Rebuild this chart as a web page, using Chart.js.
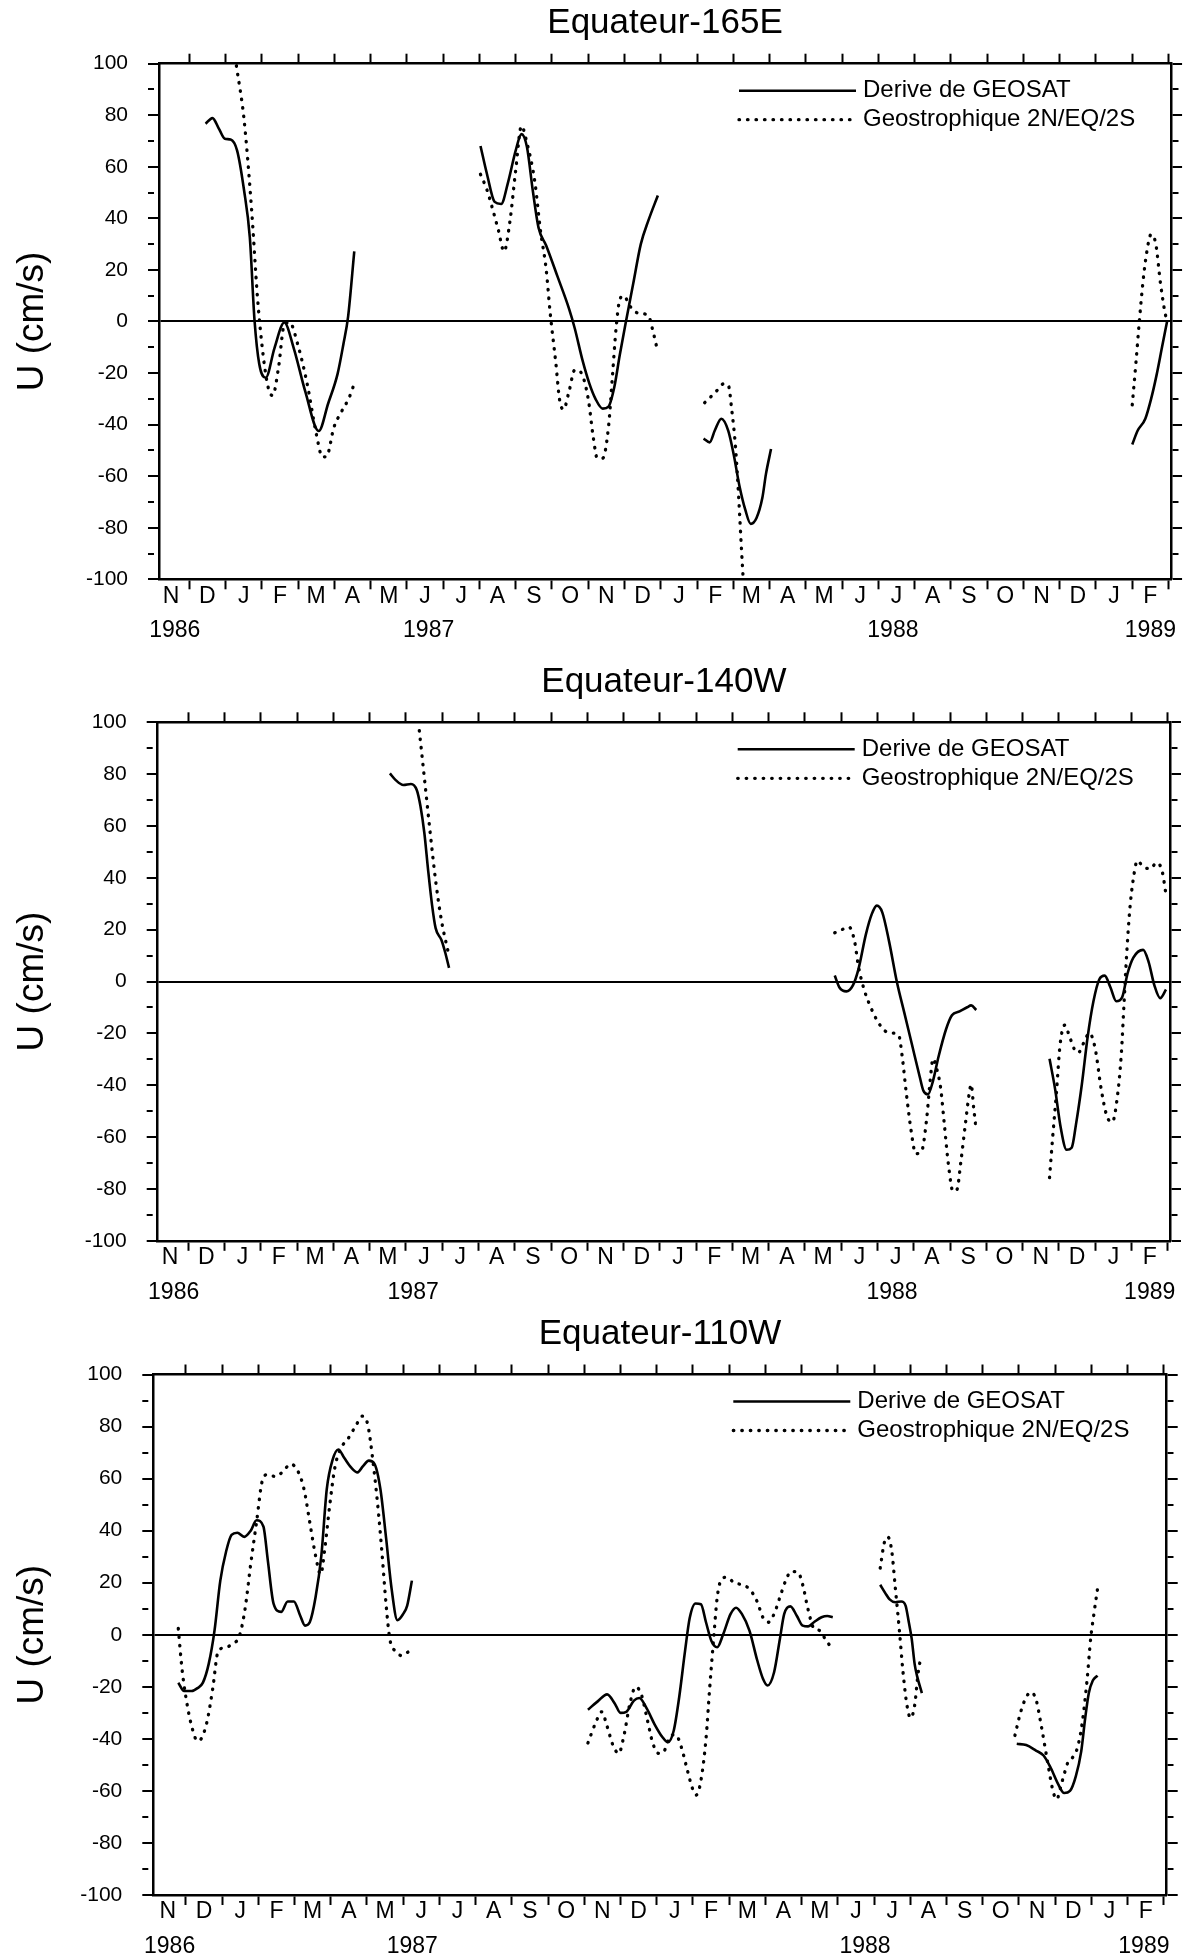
<!DOCTYPE html>
<html>
<head>
<meta charset="utf-8">
<script src="https://cdn.jsdelivr.net/npm/chart.js@4.4.1/dist/chart.umd.min.js"></script>
<style>
    html, body { margin: 0; padding: 0; background: #fff; }
    body { width: 1187px; height: 1960px; position: relative; overflow: hidden; }
    canvas { position: absolute; left: 0; }
</style>
</head>
<body>
<canvas id="c165E"></canvas>
<canvas id="c140W"></canvas>
<canvas id="c110W"></canvas>
<script>
// x values are months counted from 1 Nov 1986 (1 = 1 Dec 1986, 27 = 1 Feb 1989)
const monthLetters = ['N','D','J','F','M','A','M','J','J','A','S','O','N','D','J','F','M','A','M','J','J','A','S','O','N','D','J','F'];
const yearLabels = ['1986', '1987', '1988', '1989'];
const yearPos165E = [0.6, 7.6, 20.4, 27.5];
const yearPos140W = [0.6, 7.2, 20.4, 27.5];
const yearPos110W = [0.55, 7.25, 19.75, 27.45];

// Equateur-165E
const derive165E = [
    [[1.45,76.7],[1.64,78.9],[1.82,74.7],[1.98,70.9],[2.14,70.6],[2.32,66.3],[2.51,51],[2.67,32.6],[2.80,0.4],[2.93,-16.5],[3.11,-21.8],[3.35,-10.3],[3.62,-0.4],[3.88,-10.3],[4.20,-27.2],[4.57,-42.5],[4.83,-31.8],[5.09,-20.3],[5.25,-8.8],[5.38,1.9],[5.55,27.2]],
    [[9.03,68.1],[9.21,57.1],[9.42,46.4],[9.60,45.6],[9.79,54],[10.0,66.3],[10.16,72.7],[10.31,67.8],[10.47,51],[10.63,36.4],[10.84,29.5],[11.16,17.2],[11.47,5],[11.63,-2.7],[11.84,-14.9],[12.03,-24],[12.2,-30],[12.4,-33.8],[12.56,-33],[12.72,-25.4],[12.87,-13],[13.03,-0.8],[13.24,14.6],[13.45,30],[13.66,39.2],[13.92,48.9]],
    [[15.18,-45.4],[15.35,-46.9],[15.49,-42.3],[15.67,-37.7],[15.86,-42.3],[16.01,-51.5],[16.17,-63.8],[16.33,-73],[16.48,-78.5],[16.64,-76.2],[16.80,-68.5],[16.90,-59.2],[17.04,-49.5]],
    [[27.0,-47.7],[27.15,-42.3],[27.36,-37.7],[27.52,-30],[27.67,-20.8],[27.82,-10],[27.96,0]]
];
const geo165E = [
    [[2.30,99.2],[2.51,78.5],[2.72,43.3],[2.88,9.6],[3.04,-13.4],[3.19,-26.4],[3.30,-28.7],[3.46,-18],[3.62,-1.2],[3.77,-0.4],[3.99,-8.8],[4.25,-24.1],[4.51,-44.1],[4.67,-52.5],[4.78,-52.5],[4.99,-41],[5.20,-34.9],[5.41,-29.5],[5.55,-24.1]],
    [[9.03,57.1],[9.21,51],[9.37,43.3],[9.52,35.6],[9.68,27.2],[9.84,38.7],[10.0,58.6],[10.16,75.8],[10.31,69.3],[10.53,54],[10.68,35.6],[10.84,20.3],[10.95,3.5],[11.11,-16.5],[11.21,-30.3],[11.32,-34.1],[11.47,-27.2],[11.63,-18.8],[11.79,-19.6],[12.0,-30],[12.14,-45],[12.25,-53],[12.40,-53],[12.56,-40.8],[12.67,-20.8],[12.77,-2.3],[12.87,8.5],[12.98,10],[13.14,6.2],[13.29,3.8],[13.45,3.1],[13.66,2.3],[13.76,-2.3],[13.89,-10]],
    [[15.21,-31.5],[15.38,-29.2],[15.59,-26.2],[15.73,-24.2],[15.86,-24.6],[15.96,-34.6],[16.06,-48.5],[16.15,-68.5],[16.22,-86.9],[16.27,-99.2]],
    [[27.0,-32.3],[27.10,-16.2],[27.19,-0.8],[27.29,14.6],[27.40,26.9],[27.52,33.8],[27.65,30],[27.78,14.6],[27.92,2.3],[27.98,0]]
];

// Equateur-140W
const derive140W = [
    [[6.56,80.3],[6.72,77.7],[6.93,75.8],[7.14,76.2],[7.30,73.9],[7.40,67.8],[7.51,57.2],[7.61,43.4],[7.72,29.7],[7.82,20.6],[7.98,16],[8.08,11.4],[8.19,5.3]],
    [[18.82,2.3],[18.95,-2.3],[19.14,-3.8],[19.32,-1.5],[19.47,4.6],[19.68,18.3],[19.84,26],[19.98,29.3],[20.13,26.7],[20.32,15.3],[20.53,0],[20.74,-12.2],[20.95,-24.4],[21.16,-36.6],[21.26,-42],[21.39,-43.5],[21.53,-38.2],[21.68,-29],[21.89,-18.3],[22.05,-13],[22.26,-11.5],[22.47,-9.9],[22.58,-9.2],[22.72,-11]],
    [[24.74,-29.8],[24.89,-41.2],[25.05,-56.5],[25.21,-64.9],[25.35,-64.1],[25.47,-55],[25.63,-39.7],[25.79,-21.4],[25.95,-7.6],[26.11,0.8],[26.26,2.3],[26.42,-2.3],[26.58,-7.6],[26.74,-6.1],[26.89,3.1],[27.05,9.2],[27.32,12.2],[27.47,7.6],[27.63,-1.5],[27.79,-6.4],[27.95,-3.1]]
];
const geo140W = [
    [[7.37,96.8],[7.51,78.5],[7.66,58.7],[7.82,38.9],[7.98,23.6],[8.14,13],[8.19,9.9]],
    [[18.82,18.8],[19.0,19.9],[19.21,21.1],[19.37,15.3],[19.47,6.1],[19.63,-3.1],[19.79,-9.2],[20.0,-15.3],[20.21,-19.1],[20.42,-19.9],[20.58,-20.6],[20.68,-29],[20.79,-42.8],[20.93,-58],[21.05,-66.4],[21.21,-65.6],[21.35,-53.4],[21.45,-38.2],[21.53,-29.8],[21.63,-33.6],[21.74,-41.2],[21.84,-55],[21.95,-70.2],[22.08,-80.9],[22.19,-80.2],[22.29,-70.2],[22.42,-55],[22.53,-42.8],[22.58,-39.7],[22.65,-48.9],[22.72,-57.3]],
    [[24.74,-75.6],[24.82,-61.1],[24.93,-42.8],[25.03,-24.4],[25.16,-16.8],[25.26,-19.9],[25.42,-26],[25.53,-27.5],[25.68,-23.7],[25.84,-19.9],[26.0,-26],[26.16,-41.2],[26.32,-51.9],[26.47,-54.2],[26.61,-44.3],[26.72,-27.5],[26.79,-9.2],[26.86,9.2],[26.95,27.5],[27.05,39.7],[27.16,46.6],[27.32,44.3],[27.53,43.5],[27.68,45.8],[27.84,42.8],[27.95,33.6]]
];

// Equateur-110W
const derive110W = [
    [[0.79,-18.4],[0.95,-21.6],[1.16,-21.6],[1.32,-20.5],[1.47,-18.4],[1.63,-11.2],[1.79,1.6],[1.95,20.8],[2.11,32],[2.26,38.4],[2.42,39.2],[2.61,37.6],[2.79,40],[2.95,44],[3.14,41.6],[3.26,28.8],[3.42,12],[3.63,8.8],[3.81,12.8],[3.98,12.8],[4.16,7.2],[4.29,3.5],[4.42,4.8],[4.58,14.4],[4.74,30.4],[4.89,56],[5.05,67.2],[5.21,71.2],[5.37,68],[5.56,64.3],[5.74,62.4],[5.89,64.8],[6.05,66.9],[6.21,65.6],[6.37,56],[6.53,36.8],[6.68,17.6],[6.84,5.6],[7.0,8],[7.11,11.2],[7.24,20.8]],
    [[12.1,-28.8],[12.37,-25.6],[12.63,-22.9],[12.84,-26.4],[13.0,-30],[13.16,-29.6],[13.37,-25.3],[13.52,-24.3],[13.73,-28.5],[13.94,-34.4],[14.15,-39.2],[14.31,-41.3],[14.47,-36.8],[14.62,-24],[14.78,-6.4],[14.91,6.4],[15.07,12],[15.22,11.7],[15.36,4.8],[15.51,-2.4],[15.67,-4.8],[15.83,0],[16.04,8],[16.19,10.4],[16.35,8],[16.56,1.6],[16.77,-9.6],[16.93,-16.8],[17.06,-19.5],[17.24,-14.4],[17.40,-1.6],[17.52,8],[17.69,10.9],[17.87,7.2],[18.03,3.5],[18.18,3.2],[18.34,4.8],[18.55,6.7],[18.71,7.2],[18.86,6.7]],
    [[20.17,19.2],[20.31,16],[20.43,13.6],[20.59,12.5],[20.75,12.8],[20.87,11.2],[20.96,4.8],[21.04,-1.6],[21.12,-11.2],[21.19,-16],[21.32,-22.4]],
    [[23.94,-41.9],[24.20,-42.4],[24.47,-44.5],[24.68,-46.4],[24.88,-51.2],[25.09,-57.6],[25.25,-60.8],[25.41,-60],[25.57,-54.4],[25.72,-44.8],[25.83,-32],[25.93,-22.4],[26.04,-17.6],[26.17,-15.7]]
];
const geo110W = [
    [[0.79,2.4],[0.89,-12.8],[1.0,-24],[1.16,-35.2],[1.32,-40.8],[1.42,-40],[1.58,-33.6],[1.74,-20.8],[1.89,-6.4],[2.11,-4.8],[2.32,-3.2],[2.47,-0.8],[2.63,9.6],[2.79,27.2],[2.95,43.2],[3.11,59.2],[3.26,61.6],[3.47,60.8],[3.68,62.7],[3.89,65.6],[4.08,63.2],[4.26,56],[4.42,43.2],[4.58,30.4],[4.72,23.2],[4.84,33.6],[4.97,49.6],[5.11,64],[5.26,71.2],[5.47,75.2],[5.68,80],[5.87,84],[6.02,80.8],[6.16,67.2],[6.32,46.4],[6.42,30.4],[6.53,11.2],[6.63,-1.6],[6.79,-6.4],[6.95,-8],[7.16,-6.4]],
    [[12.1,-41.6],[12.32,-33.6],[12.48,-29.6],[12.63,-35.2],[12.79,-42.4],[12.95,-45.6],[13.10,-38.4],[13.26,-26.4],[13.42,-20],[13.58,-23.2],[13.73,-32],[13.89,-41.6],[14.05,-45.6],[14.20,-44.8],[14.36,-39.2],[14.52,-38.4],[14.68,-43.2],[14.83,-51.2],[14.99,-59.2],[15.09,-61.6],[15.22,-56],[15.36,-40],[15.46,-20.8],[15.57,-1.6],[15.67,14.4],[15.77,20.8],[15.93,22.1],[16.14,20],[16.35,19.2],[16.56,17.6],[16.77,12.8],[16.93,6.7],[17.08,4.8],[17.24,8],[17.40,14.4],[17.56,20.8],[17.71,24.3],[17.90,24],[18.03,19.2],[18.18,9.6],[18.34,2.4],[18.50,1.6],[18.65,-1.6],[18.81,-4.8]],
    [[20.17,25.6],[20.28,35.2],[20.38,37.6],[20.49,32],[20.59,17.6],[20.70,1.6],[20.80,-14.4],[20.91,-27.2],[21.01,-32],[21.12,-27.2],[21.22,-14.4],[21.30,-8]],
    [[23.89,-38.7],[24.05,-29.6],[24.20,-24],[24.33,-22.1],[24.47,-24.8],[24.62,-35.2],[24.78,-48],[24.94,-60],[25.04,-63.2],[25.20,-56],[25.36,-48.8],[25.48,-47.2],[25.62,-43.2],[25.75,-33.6],[25.88,-17.6],[25.98,-1.6],[26.07,8],[26.17,17.6]]
];

Chart.defaults.font.family = '"Liberation Sans", Arial, sans-serif';
Chart.defaults.color = '#000';

// join segments into one series, with a null between them to break the line
function toPoints(segments) {
    const pts = [];
    segments.forEach((seg, i) => {
        if (i > 0) {
            const prev = segments[i - 1];
            pts.push({ x: (prev[prev.length - 1][0] + seg[0][0]) / 2, y: null });
        }
        seg.forEach(([x, y]) => pts.push({ x: x, y: y }));
    });
    return pts;
}

// legend drawn inside the plot, top right
const insideLegend = {
    id: 'insideLegend',
    afterDatasetsDraw(chart) {
        const { ctx, chartArea } = chart;
        chart.data.datasets.forEach((ds, i) => {
            const y = chartArea.top + 27 + i * 29;
            ctx.save();
            ctx.strokeStyle = ds.borderColor;
            ctx.lineWidth = ds.borderWidth;
            ctx.lineCap = ds.borderCapStyle || 'butt';
            ctx.setLineDash(ds.borderDash || []);
            ctx.beginPath();
            ctx.moveTo(chartArea.left + 580, y);
            ctx.lineTo(chartArea.left + 697, y);
            ctx.stroke();
            ctx.setLineDash([]);
            ctx.fillStyle = '#000';
            ctx.font = '24px "Liberation Sans", Arial, sans-serif';
            ctx.textBaseline = 'middle';
            ctx.fillText(ds.label, chartArea.left + 704, y);
            ctx.restore();
        });
    }
};

const isMinor = ctx => ctx.tick && ctx.tick.value % 20 !== 0;

function makeChart(p) {
    const canvas = document.getElementById(p.id);
    canvas.width = 1187;
    canvas.height = p.height;
    canvas.style.width = '1187px';
    canvas.style.height = p.height + 'px';
    canvas.style.top = p.canvasTop + 'px';

    const monthTicks = scale => { scale.ticks = []; for (let m = 1; m <= 28; m++) scale.ticks.push({ value: m }); };
    const markAxis = (position, height) => ({
        type: 'linear', position: position, min: p.min, max: p.max,
        afterBuildTicks: monthTicks,
        afterFit: s => { s.height = height; },
        ticks: { display: false, callback: () => '' },
        grid: { drawOnChartArea: false, tickLength: 10, tickColor: '#000', tickWidth: 2 },
        border: { display: true, color: '#000', width: 2.5 }
    });
    const labelAxis = (weight, height, padding, values, names) => ({
        type: 'linear', position: 'bottom', weight: weight, min: p.min, max: p.max,
        afterBuildTicks: s => { s.ticks = values.map(v => ({ value: v })); },
        afterFit: s => { s.height = height; },
        ticks: { autoSkip: false, maxRotation: 0, padding: padding, font: { size: 23 },
            callback: (v, i) => names[i] },
        grid: { display: false, drawTicks: false },
        border: { display: false }
    });
    const vAxis = (position, width) => ({
        position: position, min: -100, max: 100,
        afterFit: s => { s.width = width; },
        grid: {
            drawOnChartArea: position === 'left',
            color: ctx => (ctx.tick && ctx.tick.value === 0) ? '#000' : 'rgba(0,0,0,0)',
            lineWidth: ctx => (ctx.tick && ctx.tick.value === 0) ? 2 : 0,
            tickLength: 11, tickColor: '#000', tickWidth: 2,
            tickBorderDash: ctx => isMinor(ctx) ? [6, 40] : []
        },
        border: { display: true, color: '#000', width: 2.5 }
    });

    const yLeft = vAxis('left', p.left);
    yLeft.ticks = { stepSize: 10, autoSkip: false, padding: 20, font: { size: 21 },
        callback: v => (v % 20 === 0 ? String(v) : '') };
    yLeft.title = { display: true, text: 'U (cm/s)', font: { size: 37 }, padding: { top: 10.3, bottom: 0 } };
    const yRight = vAxis('right', 1187 - p.right);
    yRight.ticks = { stepSize: 10, display: false, autoSkip: false };

    return new Chart(canvas, {
        type: 'line',
        data: {
            datasets: [{
                label: 'Derive de GEOSAT',
                data: toPoints(p.derive),
                borderColor: '#000',
                borderWidth: 2.6,
                pointRadius: 0,
                cubicInterpolationMode: 'monotone',
                spanGaps: false,
                fill: false
            }, {
                label: 'Geostrophique 2N/EQ/2S',
                data: toPoints(p.geo),
                borderColor: '#000',
                borderWidth: 3.3,
                borderDash: [0.5, 8],
                borderCapStyle: 'round',
                pointRadius: 0,
                cubicInterpolationMode: 'monotone',
                spanGaps: false,
                fill: false
            }]
        },
        options: {
            responsive: false,
            animation: false,
            layout: { padding: 0 },
            plugins: {
                legend: { display: false },
                tooltip: { enabled: false },
                title: {
                    display: true,
                    fullSize: false,
                    text: p.title,
                    color: '#000',
                    font: { size: 35, weight: 'normal' },
                    padding: { top: p.chartTop - 61, bottom: 5 }
                }
            },
            scales: {
                x: Object.assign(markAxis('bottom', 1), { weight: 0 }),
                xLbl: labelAxis(1, 26, 2.2, monthLetters.map((m, i) => i + 0.5), monthLetters),
                xYear: labelAxis(2, p.height - p.chartBottom - 27, 10.7, p.years, yearLabels),
                xTop: markAxis('top', 14),
                y: yLeft,
                y2: yRight
            }
        },
        plugins: [insideLegend]
    });
}

const panels = [
    { id: 'c165E', title: 'Equateur-165E', derive: derive165E, geo: geo165E, years: yearPos165E,
      canvasTop: 0, height: 652, chartTop: 63.7, chartBottom: 579.3, left: 159, right: 1172.3, min: 0.166, max: 28.07 },
    { id: 'c140W', title: 'Equateur-140W', derive: derive140W, geo: geo140W, years: yearPos140W,
      canvasTop: 658, height: 652, chartTop: 64.3, chartBottom: 582.8, left: 157.7, right: 1170, min: 0.16, max: 28.06 },
    { id: 'c110W', title: 'Equateur-110W', derive: derive110W, geo: geo110W, years: yearPos110W,
      canvasTop: 1310, height: 650, chartTop: 64.5, chartBottom: 585, left: 153.3, right: 1166.7, min: 0.1, max: 28.08 }
];

panels.forEach(makeChart);
</script>
</body>
</html>
